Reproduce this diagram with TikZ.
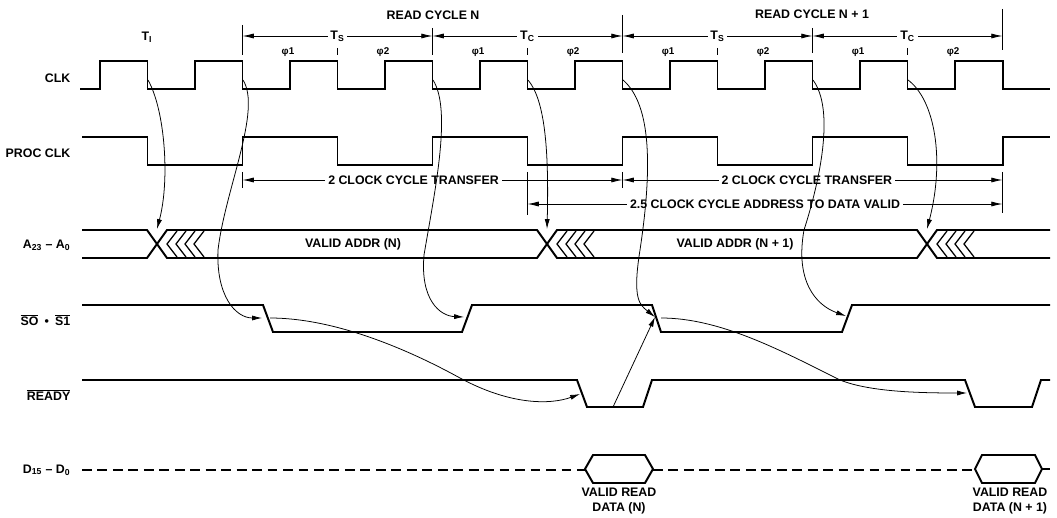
\documentclass[tikz,border=0pt]{standalone}
\usepackage{fontspec}
\setmainfont{Liberation Sans}
\usetikzlibrary{arrows.meta}

\newcommand{\ovl}[1]{$\overline{\mbox{#1}}$}

\begin{document}
\begin{tikzpicture}[x=0.025cm, y=-0.025cm,
    % Define the styles for traces, labels and arrows
    sigline/.style={line width=1.4pt, line join=miter},
    chevron/.style={line width=0.9pt},
    barline/.style={line width=0.7pt},
    sigtext/.style={font=\bfseries\fontsize{8.8}{10.5}\selectfont, inner sep=1pt},
    signame/.style={sigtext, anchor=east},
    gaplabel/.style={sigtext, fill=white, inner sep=2pt},
    phitext/.style={font=\bfseries\fontsize{7}{8}\selectfont, inner sep=0pt},
    dimline/.style={line width=0.6pt, {Latex[length=8pt,width=3.6pt]}-{Latex[length=8pt,width=3.6pt]}},
    timing/.style={line width=0.55pt, -{Latex[length=7pt,width=3.6pt]}}
]
\useasboundingbox (0,0) rectangle (1057,518);

% Signal names
\node[signame] (clk) at (72,78) {CLK};
\node[signame] (pclk) at (72,153) {PROC CLK};
\node[signame] (addr) at (72,245) {A\textsubscript{23} – A\textsubscript{0}};
\node[signame] (sts) at (72,320) {\ovl{SO}\enspace•\enspace\ovl{S1}};
\node[signame] (rdy) at (72,395) {\ovl{READY}};
\node[signame] (data) at (72,470) {D\textsubscript{15} – D\textsubscript{0}};

% Cycle headers
\node[sigtext] (rcn) at (433,15) {READ CYCLE N};
\node[sigtext] (rcm) at (812,14) {READ CYCLE N + 1};
\node[sigtext] (ti) at (147,37) {T\textsubscript{I}};

\foreach \x/\t/\b in {242.5/25/55, 432.5/28/55, 622.5/15/53, 812.5/28/53, 1002.5/9/50}
    \draw[barline] (\x,\t) -- (\x,\b);
\foreach \x in {337.5, 527.5, 717.5, 907.5}
    \draw[barline] (\x,48) -- (\x,55);

\foreach \k in {0,...,4}
    \coordinate (c\k) at ({242.5+190*\k},36);
\draw[dimline] (c0) -- node[gaplabel] (ts1) {T\textsubscript{S}} (c1);
\draw[dimline] (c1) -- node[gaplabel] (tc1) {T\textsubscript{C}} (c2);
\draw[dimline] (c2) -- node[gaplabel] (ts2) {T\textsubscript{S}} (c3);
\draw[dimline] (c3) -- node[gaplabel] (tc2) {T\textsubscript{C}} (c4);

% Phase labels
\foreach \k in {0,...,7} {
    \pgfmathtruncatemacro{\p}{mod(\k,2)+1}
    \node[phitext] (phi\k) at ({288+95*\k},52) {φ\p};
}

% CLK and PROC CLK
\draw[sigline] (80,89) \foreach \k in {0,...,9} {
    -- ({100+95*\k},89) -- ({100+95*\k},61) -- ({147.5+95*\k},61) -- ({147.5+95*\k},89) } -- (1050,89);
\draw[sigline] (82,137) \foreach \k in {0,...,4} {
    -- ({147.5+190*\k},137) -- ({147.5+190*\k},165) -- ({242.5+190*\k},165) -- ({242.5+190*\k},137) } -- (1050,137);

% Transfer spans
\foreach \x/\t/\b in {242.5/172/188, 622.5/172/188, 527.5/172/215, 1002.5/172/213}
    \draw[barline] (\x,\t) -- (\x,\b);
\coordinate (t0) at (242.5,180);
\coordinate (t1) at (622.5,180);
\coordinate (t2) at (1002.5,180);
\coordinate (h0) at (527.5,204);
\coordinate (h1) at (1002.5,204);
\draw[dimline] (t0) -- node[gaplabel, pos=0.45] (tr1) {2 CLOCK CYCLE TRANSFER} (t1);
\draw[dimline] (t1) -- node[gaplabel, pos=0.485] (tr2) {2 CLOCK CYCLE TRANSFER} (t2);
\draw[dimline] (h0) -- node[gaplabel] (av) {2.5 CLOCK CYCLE ADDRESS TO DATA VALID} (h1);

% Address bus
\draw[sigline] (82,230) -- (147,230) -- (167,258) -- (537,258) -- (557,230) -- (917,230) -- (937,258) -- (1050,258);
\draw[sigline] (82,258) -- (147,258) -- (167,230) -- (537,230) -- (557,258) -- (917,258) -- (937,230) -- (1050,230);
\foreach \cx in {157, 547, 927}
    \foreach \j in {0,...,3}
        \draw[chevron] ({\cx+20+9*\j},231) -- ({\cx+10+9*\j},244) -- ({\cx+20+9*\j},257);
\node[sigtext] (va1) at (353,244) {VALID ADDR (N)};
\node[sigtext] (va2) at (735,244) {VALID ADDR (N + 1)};

% Status and ready
\draw[sigline] (82,305) -- (263,305) -- (273,332) -- (462,332) -- (472,305) -- (652,305) -- (661,332) -- (842,332) -- (852,305) -- (1050,305);
\draw[sigline] (82,380) -- (577,380) -- (587,407) -- (643,407) -- (652,380) -- (965,380) -- (975,407) -- (1032,407) -- (1041,380) -- (1050,380);

% Data bus
\draw[sigline, dash pattern=on 7pt off 4pt] (82,470) -- (585,470);
\draw[sigline, dash pattern=on 7pt off 4pt] (653,470) -- (975,470);
\draw[sigline] (585,469) -- (593,455) -- (645,455) -- (653,469) -- (645,483) -- (593,483) -- cycle;
\draw[sigline] (975,469) -- (982,455) -- (1035,455) -- (1042,469) -- (1035,483) -- (982,483) -- cycle;
\draw[sigline] (1042,469) -- (1050,469);
\node[sigtext, align=center] (vd1) at (619,501) {VALID READ\\DATA (N)};
\node[sigtext, align=center] (vd2) at (1010,501) {VALID READ\\DATA (N + 1)};

% Edge coordinates for the timing links
\foreach \k in {0,...,9}
    \coordinate (f\k) at ({148+95*\k},80);
\coordinate (ax0) at (157,229);
\coordinate (ax1) at (547,229);
\coordinate (ax2) at (927,229);
\coordinate (s1) at (262,318);
\coordinate (s2) at (464,317);
\coordinate (s3) at (655,317);
\coordinate (s4) at (846,316);
\coordinate (s1o) at (270,318);
\coordinate (s3o) at (661,318);
\coordinate (r1) at (580,394);
\coordinate (r2) at (967,393);
\coordinate (r1lo) at (613,407);

% Timing links
\draw[timing] (f0) .. controls (165,110) and (170,180) .. (ax0);
\draw[timing] (f1) .. controls (262,110) and (225,190) .. (218,250) .. controls (216,295) and (235,318) .. (s1);
\draw[timing] (f3) .. controls (452,110) and (435,190) .. (424,255) .. controls (420,300) and (440,316) .. (s2);
\draw[timing] (f4) .. controls (545,100) and (549,150) .. (ax1);
\draw[timing] (f5) .. controls (652,105) and (652,170) .. (640,250) .. controls (632,300) and (640,305) .. (s3);
\draw[timing] (f7) .. controls (835,110) and (820,180) .. (804,230) .. controls (795,280) and (815,305) .. (s4);
\draw[timing] (f8) .. controls (935,100) and (945,160) .. (ax2);
\draw[timing] (s1o) .. controls (330,318) and (400,345) .. (460,378) .. controls (510,405) and (550,405) .. (r1);
\draw[timing] (s3o) .. controls (720,318) and (780,350) .. (840,380) .. controls (870,392) and (920,393) .. (r2);
\draw[timing] (r1lo) -- (s3);

\end{tikzpicture}
\end{document}
